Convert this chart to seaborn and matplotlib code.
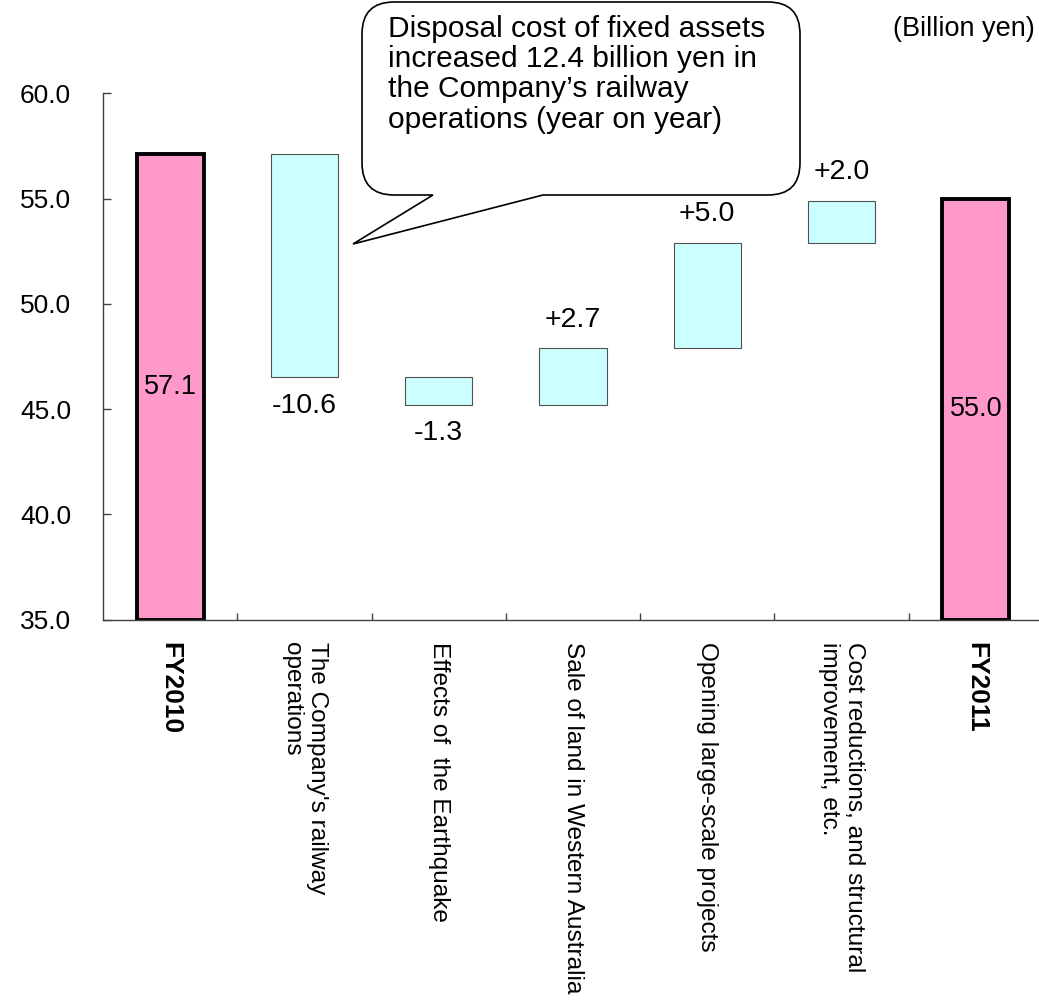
import numpy as np
import pandas as pd
import matplotlib
matplotlib.use("Agg")
import matplotlib.pyplot as plt
import seaborn as sns
from matplotlib.path import Path
from matplotlib.patches import PathPatch

# ---------------- data ----------------
categories = [
    "FY2010",
    "The Company's railway\noperations",
    "Effects of  the Earthquake",
    "Sale of land in Western Australia",
    "Opening large-scale projects",
    "Cost reductions, and structural\nimprovement, etc.",
    "FY2011",
]
start_total = 57.1
end_total = 55.0
change_values = [-10.6, -1.3, 2.7, 5.0, 2.0]
y_ticks = [35.0, 40.0, 45.0, 50.0, 55.0, 60.0]
unit_label = "(Billion yen)"
callout_text = ("Disposal cost of fixed assets\n"
                "increased 12.4 billion yen in\n"
                "the Company\u2019s railway\n"
                "operations (year on year)")

# ---------------- derived tables ----------------
Y_MIN, Y_MAX = y_ticks[0], y_ticks[-1]
rows = []
running = start_total
for cat, c in zip(categories[1:-1], change_values):
    lo, hi = min(running, running + c), max(running, running + c)
    rows.append(dict(cat=cat, bottom=lo, height=hi - lo, change=c, lo=lo, hi=hi))
    running += c
df_delta = pd.DataFrame(rows)
df_tot = pd.DataFrame(dict(cat=[categories[0], categories[-1]],
                           total=[start_total, end_total]))
df_tot["height"] = df_tot["total"] - Y_MIN

PINK = "#FF99CC"
CYAN = "#CCFFFF"

W, H = 1039, 1001
sns.set_theme(style="white")
plt.rcParams["font.family"] = ["Liberation Sans", "DejaVu Sans"]
plt.rcParams["text.color"] = "black"
plt.rcParams["xtick.color"] = "black"
plt.rcParams["ytick.color"] = "black"
plt.rcParams["axes.labelcolor"] = "black"

fig = plt.figure(figsize=(W / 100, H / 100), dpi=100)
ax = fig.add_axes([103 / W, 1 - 619.5 / H, (1043 - 103) / W, (619.5 - 93.3) / H])

# total bars
sns.barplot(data=df_tot, x="cat", y="height", order=categories, bottom=Y_MIN,
            color=PINK, saturation=1, width=0.5, edgecolor="black",
            linewidth=2.8, errorbar=None, ax=ax)
# floating change bars
sns.barplot(data=df_delta, x="cat", y="height", order=categories,
            bottom=df_delta["bottom"].values, color=CYAN, saturation=1,
            width=0.5, edgecolor="#505050", linewidth=0.8, errorbar=None, ax=ax)

ax.set_xlim(-0.5, len(categories) - 0.5)
ax.set_ylim(Y_MIN, Y_MAX)
ax.set_xlabel("")
ax.set_ylabel("")

# value labels
for _, r in df_delta.iterrows():
    i = categories.index(r["cat"])
    txt = f"{r['change']:+.1f}"
    if r["change"] >= 0:
        ax.annotate(txt, (i, r["hi"]), xytext=(0, 11), textcoords="offset points",
                    ha="center", va="bottom", fontsize=20.5, color="black")
    else:
        ax.annotate(txt, (i, r["lo"]), xytext=(0, -11), textcoords="offset points",
                    ha="center", va="top", fontsize=20.5, color="black")
for _, r in df_tot.iterrows():
    i = categories.index(r["cat"])
    ax.text(i, (Y_MIN + r["total"]) / 2, f"{r['total']:.1f}", ha="center",
            va="center", fontsize=19.5, color="black")

# axes styling
for s in ["top", "right"]:
    ax.spines[s].set_visible(False)
for s in ["left", "bottom"]:
    ax.spines[s].set_color("#404040")
    ax.spines[s].set_linewidth(1.0)

ax.set_yticks(y_ticks)
ax.set_yticklabels([f"{v:.1f}" for v in y_ticks], fontsize=19)
ax.tick_params(axis="y", direction="in", length=6, width=1, color="#404040",
               labelcolor="black", pad=23, left=True)

ax.set_xticks(range(len(categories)))
ax.set_xticklabels(categories, rotation=270, ha="center", va="top",
                   multialignment="left", fontsize=17.6)
ax.tick_params(axis="x", which="major", length=0, pad=16, labelcolor="black")
ax.set_xticks(np.arange(0.5, len(categories) - 1, 1.0), minor=True)
ax.tick_params(axis="x", which="minor", direction="in", length=5, width=1,
               color="#404040", bottom=True)
for lbl in ax.get_xticklabels():
    lbl.set_color("black")
    if lbl.get_text().startswith("FY"):
        lbl.set_fontweight("bold")
        lbl.set_fontsize(19)

ax.grid(False)

# unit label
fig.text(1035 / W, 1 - 29 / H, unit_label, ha="right", va="center",
         fontsize=19.5, color="black")

# callout bubble (figure pixel geometry)
def P(x, y):
    return (x / W, 1 - y / H)

L, R, T, B, rad = 362, 800, 2, 195, 32
base_l, base_r, tip = 433, 543, (353, 244)
verts = [P(L + rad, T), P(R - rad, T), P(R, T), P(R, T + rad), P(R, B - rad),
         P(R, B), P(R - rad, B), P(base_r, B), P(*tip), P(base_l, B),
         P(L + rad, B), P(L, B), P(L, B - rad), P(L, T + rad), P(L, T),
         P(L + rad, T), P(L + rad, T)]
codes = [Path.MOVETO, Path.LINETO, Path.CURVE3, Path.CURVE3, Path.LINETO,
         Path.CURVE3, Path.CURVE3, Path.LINETO, Path.LINETO, Path.LINETO,
         Path.LINETO, Path.CURVE3, Path.CURVE3, Path.LINETO, Path.CURVE3,
         Path.CURVE3, Path.CLOSEPOLY]
bubble = PathPatch(Path(verts, codes), facecolor="white", edgecolor="black",
                   linewidth=1.2, transform=fig.transFigure, zorder=5)
fig.add_artist(bubble)
fig.text(388 / W, 1 - 15 / H, callout_text, ha="left", va="top",
         fontsize=21.5, linespacing=1.1, zorder=6, color="black")

fig.savefig("out.png", dpi=100, facecolor="white")
